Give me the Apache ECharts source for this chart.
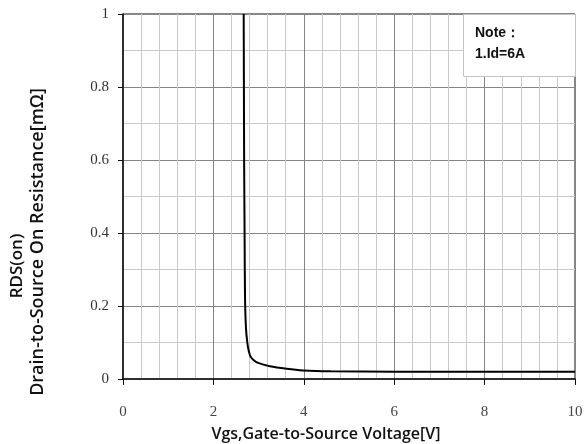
<!DOCTYPE html>
<html>
<head>
<meta charset="utf-8">
<script src="https://cdn.jsdelivr.net/npm/echarts@6/dist/echarts.min.js"></script>
<style>
  html, body { margin: 0; padding: 0; background: #fff; }
  #main { width: 586px; height: 444px; }
</style>
</head>
<body>
<div id="main"></div>
<script>
// RDS(on) vs Vgs curve
var vgs = [2.67, 2.675, 2.68, 2.69, 2.70, 2.72, 2.75, 2.78, 2.82, 2.88, 2.99, 3.25, 3.62, 3.98, 4.60, 6.00, 8.00, 10.00];
var rds = [1.00, 0.80,  0.60, 0.40, 0.22, 0.14, 0.10, 0.078, 0.062, 0.053, 0.044, 0.035, 0.028, 0.0235, 0.021, 0.020, 0.020, 0.020];
var xTitle = 'Vgs,Gate-to-Source Voltage[V]';
var yTitle1 = 'RDS(on)';
var yTitle2 = 'Drain-to-Source On Resistance[mΩ]';
var noteLines = ['Note：', '1.Id=6A'];

var curve = vgs.map(function (v, i) { return [v, rds[i]]; });

var myChart = echarts.init(document.getElementById('main'));
var option = {
    animation: false,
    grid: {
        left: 123,
        right: 11,
        top: 14,
        bottom: 65,
        show: true,
        borderColor: '#111',
        borderWidth: 1
    },
    xAxis: {
        type: 'value',
        min: 0,
        max: 10,
        interval: 2,
        axisLine: { show: true, onZero: false, lineStyle: { color: '#111', width: 1.5 } },
        axisTick: { show: true, length: 6, lineStyle: { color: '#111' } },
        axisLabel: { margin: 26, color: '#444', fontSize: 15, fontFamily: 'Liberation Serif' },
        splitLine: { show: true, lineStyle: { color: '#858585', width: 1 } },
        minorTick: { show: false, splitNumber: 5 },
        minorSplitLine: { show: true, lineStyle: { color: '#c9c9c9', width: 1 } }
    },
    yAxis: {
        type: 'value',
        min: 0,
        max: 1,
        interval: 0.2,
        axisLine: { show: true, lineStyle: { color: '#111', width: 1.5 } },
        axisTick: { show: true, length: 5, lineStyle: { color: '#111' } },
        axisLabel: { margin: 14, color: '#333', fontSize: 15, fontFamily: 'Liberation Serif' },
        splitLine: { show: true, lineStyle: { color: '#858585', width: 1 } },
        minorTick: { show: false, splitNumber: 2 },
        minorSplitLine: { show: true, lineStyle: { color: '#c9c9c9', width: 1 } }
    },
    series: [{
        type: 'line',
        data: curve,
        smooth: 0.3,
        showSymbol: false,
        lineStyle: { color: '#000', width: 2 },
        z: 3
    }],
    graphic: [
        {
            type: 'rect',
            left: 463, top: 14,
            shape: { width: 112, height: 62 },
            style: { fill: '#fff', stroke: '#c4c4c4', lineWidth: 1 },
            z: 10
        },
        {
            type: 'text',
            left: 475, top: 23,
            style: {
                text: noteLines.join('\n'),
                font: 'bold 14px "Liberation Sans"',
                lineHeight: 21,
                fill: '#111'
            },
            z: 11
        },
        {
            type: 'text',
            x: 326, y: 434,
            style: {
                text: xTitle,
                font: '600 16px "Open Sans"',
                fill: '#111',
                align: 'center',
                verticalAlign: 'middle'
            }
        },
        {
            type: 'text',
            x: 17, y: 266,
            rotation: Math.PI / 2,
            style: {
                text: yTitle1,
                font: '600 17px "Open Sans"',
                fill: '#111',
                align: 'center',
                verticalAlign: 'middle'
            }
        },
        {
            type: 'text',
            x: 38, y: 242,
            rotation: Math.PI / 2,
            style: {
                text: yTitle2,
                font: '600 18px "Open Sans"',
                fill: '#111',
                align: 'center',
                verticalAlign: 'middle'
            }
        }
    ]
};
myChart.setOption(option);
</script>
</body>
</html>
